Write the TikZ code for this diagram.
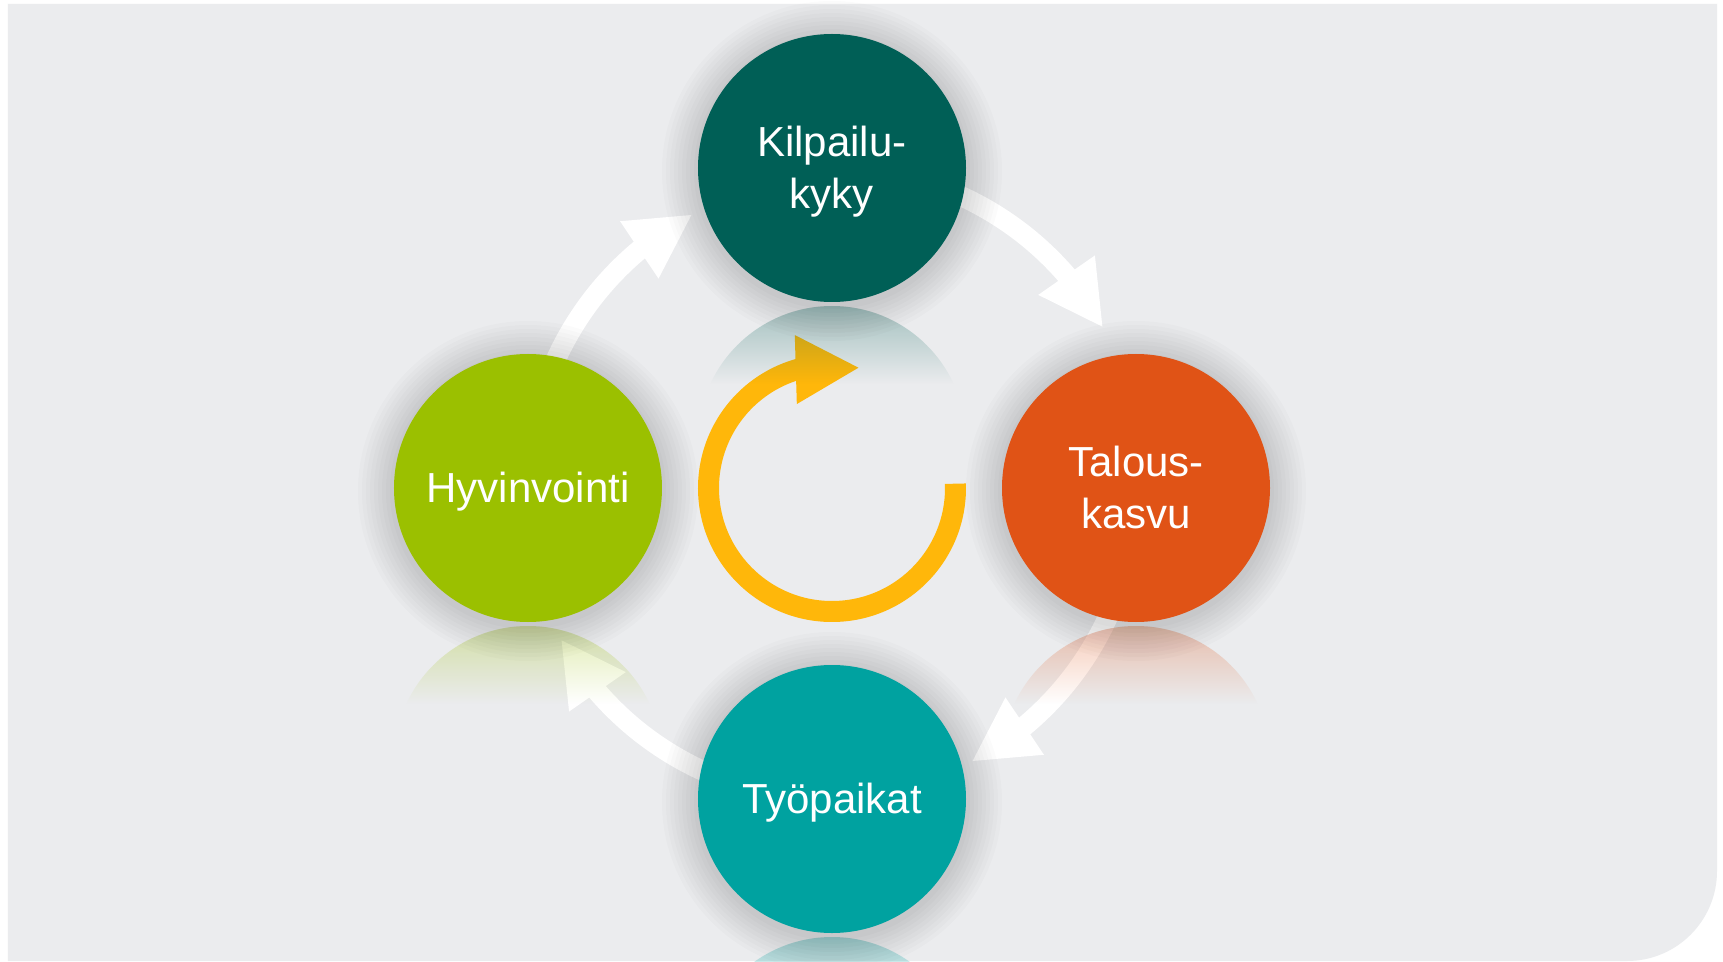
\documentclass[tikz,border=0pt]{standalone}
\usepackage{fontspec}
\setmainfont{Liberation Sans}
\usetikzlibrary{arrows.meta, bending, fadings}

\definecolor{bggray}{RGB}{235,236,238}
\definecolor{kilgreen}{RGB}{0,95,86}
\definecolor{hyvgreen}{RGB}{155,192,0}
\definecolor{talorange}{RGB}{224,83,22}
\definecolor{tyoteal}{RGB}{0,162,160}
\definecolor{ringyellow}{RGB}{255,183,10}

\tikzfading[name=fadedown, top color=transparent!0, bottom color=transparent!100]

\pgfdeclarelayer{bottom}
\pgfdeclarelayer{refl}
\pgfdeclarelayer{glow}
\pgfsetlayers{bottom,refl,glow,main}

% line strut, so that each line is centred on ascent and descent
\newcommand{\lnstrut}{\rule[-0.212em]{0pt}{1.117em}}

\tikzset{
  disc/.style={circle, minimum size=268pt, inner sep=0pt, text=white, align=center,
    font=\fontsize{42}{52}\selectfont},
  flowarrow/.style={white, line width=20pt, -{Triangle[width=64pt, length=64pt, flex]}},
  ringarrow/.style={ringyellow, line width=21pt, -{Triangle[width=64pt, length=64pt, flex]}},
}

\begin{document}
\begin{tikzpicture}[x=1pt, y=1pt]
  \useasboundingbox (-832,-473) rectangle (891,488);

  % the four discs
  \node[disc, fill=kilgreen] (kil) at (0,320) {\lnstrut Kilpailu-\\\lnstrut kyky};
  \node[disc, fill=hyvgreen] (hyv) at (-304,0) {\lnstrut Hyvinvointi};
  \node[disc, fill=talorange] (tal) at (304,0) {\lnstrut Talous-\\\lnstrut kasvu};
  \node[disc, fill=tyoteal] (tyo) at (0,-311) {\lnstrut Työpaikat};
  \coordinate (hub) at (0,0);

  \begin{pgfonlayer}{bottom}
    \fill[white] (-832,-473) rectangle (891,488);
    \fill[bggray] (-824,-473) -- (-824,484) -- (885,484) -- (885,-383)
      arc[start angle=0, end angle=-90, radius=90] -- cycle;

    % cycle arrows
    \draw[flowarrow] (hyv.center) arc[start angle=180, end angle=118, radius=310];
    \draw[flowarrow] (kil.center) arc[start angle=90, end angle=29, radius=310];
    \draw[flowarrow] (tal.center) arc[start angle=0, end angle=-62, radius=310];
    \draw[flowarrow] (tyo.center) arc[start angle=270, end angle=209, radius=310];

    % centre ring
    \draw[ringarrow] ([shift={(2:123.5)}]hub) arc[start angle=2, end angle=-283, radius=123.5];
  \end{pgfonlayer}

  % mirrored discs below
  \begin{pgfonlayer}{refl}
    \foreach \n/\c in {kil/kilgreen, hyv/hyvgreen, tal/talorange, tyo/tyoteal} {
      \begin{scope}
        \clip ([yshift=-272pt]\n.center) circle[radius=134];
        \fill[\c, fill opacity=0.34, path fading=fadedown]
          ([shift={(-140pt,6pt)}]\n.south) rectangle ([shift={(140pt,-82pt)}]\n.south);
      \end{scope}
    }
  \end{pgfonlayer}

  % soft shadows
  \begin{pgfonlayer}{glow}
    \foreach \n in {kil, hyv, tal, tyo}
      \foreach \k in {1,...,9}
        \fill[black, opacity=0.014] ([yshift=-3pt]\n.center) circle[radius=134+\k*4];
  \end{pgfonlayer}
\end{tikzpicture}
\end{document}
